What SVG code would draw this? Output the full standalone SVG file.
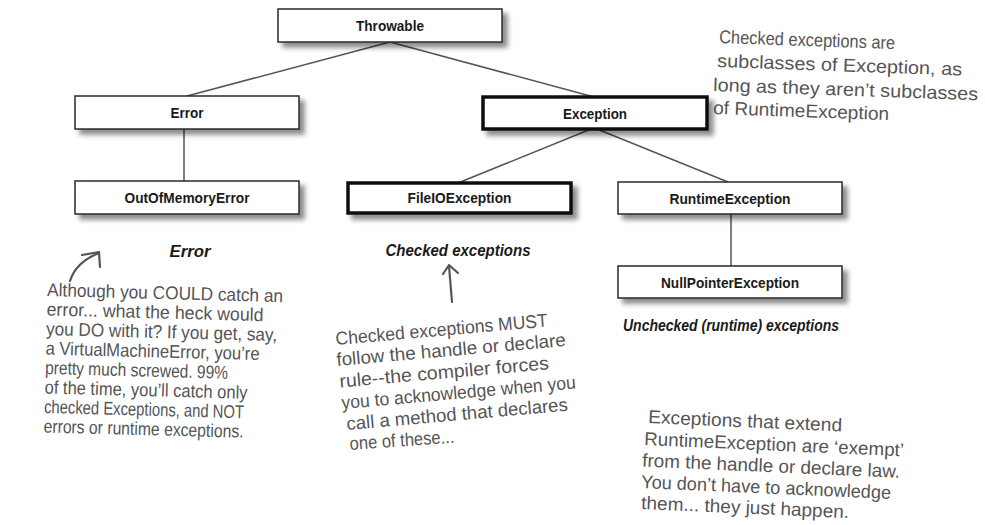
<svg xmlns="http://www.w3.org/2000/svg" width="985" height="525" viewBox="0 0 985 525">
  <defs>
    <filter id="shadow" x="-10%" y="-30%" width="130%" height="190%">
      <feDropShadow dx="5" dy="5" stdDeviation="2.5" flood-color="#000" flood-opacity="0.45"/>
    </filter>
    <style>
      .box { fill: #ffffff; stroke: #2a2a2a; stroke-width: 1.5; filter: url(#shadow); }
      .box-thick { fill: #ffffff; stroke: #111111; stroke-width: 3.5; filter: url(#shadow); }
      .lbl { font-family: "Liberation Sans", Arial, sans-serif; font-weight: bold; font-size: 15px; fill: #1a1a1a; text-anchor: middle; }
      .cat { font-family: "Liberation Sans", Arial, sans-serif; font-weight: bold; font-style: italic; font-size: 16px; fill: #1a1a1a; text-anchor: middle; }
      .hand { font-family: "Liberation Sans Narrow", "Liberation Sans", sans-serif; font-size: 18.5px; fill: #555555; }
      .conn { stroke: #555555; stroke-width: 1.5; fill: none; }
      .arrow { stroke: #555555; stroke-width: 2.2; fill: none; stroke-linecap: round; stroke-linejoin: round; }
    </style>
  </defs>

  <rect width="985" height="525" fill="#ffffff"/>

  <g id="connectors">
    <line class="conn" x1="390" y1="42" x2="187" y2="96"/>
    <line class="conn" x1="390" y1="42" x2="594" y2="97"/>
    <line class="conn" x1="184" y1="129" x2="184" y2="181"/>
    <line class="conn" x1="591" y1="129" x2="458" y2="183"/>
    <line class="conn" x1="597" y1="129" x2="728" y2="182"/>
    <line class="conn" x1="731" y1="214" x2="731" y2="266"/>
  </g>

  <g id="node-throwable">
    <rect class="box" x="278" y="9" width="224" height="33"/>
    <text class="lbl" x="390" y="31" textLength="68" lengthAdjust="spacingAndGlyphs">Throwable</text>
  </g>
  <g id="node-error">
    <rect class="box" x="75" y="96" width="224" height="33"/>
    <text class="lbl" x="187" y="118" textLength="33" lengthAdjust="spacingAndGlyphs">Error</text>
  </g>
  <g id="node-exception">
    <rect class="box-thick" x="483" y="97" width="224" height="32"/>
    <text class="lbl" x="595" y="118.5" textLength="64" lengthAdjust="spacingAndGlyphs">Exception</text>
  </g>
  <g id="node-outofmemoryerror">
    <rect class="box" x="75" y="181" width="224" height="33"/>
    <text class="lbl" x="187" y="203" textLength="125" lengthAdjust="spacingAndGlyphs">OutOfMemoryError</text>
  </g>
  <g id="node-fileioexception">
    <rect class="box-thick" x="348" y="183" width="223" height="30"/>
    <text class="lbl" x="459.5" y="203" textLength="104" lengthAdjust="spacingAndGlyphs">FileIOException</text>
  </g>
  <g id="node-runtimeexception">
    <rect class="box" x="618" y="182" width="224" height="32"/>
    <text class="lbl" x="730" y="203.5" textLength="121" lengthAdjust="spacingAndGlyphs">RuntimeException</text>
  </g>
  <g id="node-nullpointerexception">
    <rect class="box" x="618" y="266" width="224" height="32"/>
    <text class="lbl" x="730" y="287.5" textLength="138" lengthAdjust="spacingAndGlyphs">NullPointerException</text>
  </g>

  <g id="categories">
    <text class="cat" x="190" y="257" textLength="41" lengthAdjust="spacingAndGlyphs">Error</text>
    <text class="cat" x="458" y="256" textLength="145" lengthAdjust="spacingAndGlyphs">Checked exceptions</text>
    <text class="cat" x="731" y="331" textLength="216" lengthAdjust="spacingAndGlyphs">Unchecked (runtime) exceptions</text>
  </g>

  <g id="note-checked-def">
    <text class="hand" x="719" y="43" transform="rotate(2 719 43)" textLength="176" lengthAdjust="spacingAndGlyphs">Checked exceptions are</text>
    <text class="hand" x="717" y="67" transform="rotate(2 717 67)" textLength="245" lengthAdjust="spacingAndGlyphs">subclasses of Exception, as</text>
    <text class="hand" x="713" y="91" transform="rotate(2 713 91)" textLength="265" lengthAdjust="spacingAndGlyphs">long as they aren’t subclasses</text>
    <text class="hand" x="713" y="114" transform="rotate(2 713 114)" textLength="176" lengthAdjust="spacingAndGlyphs">of RuntimeException</text>
  </g>

  <g id="note-error">
    <path class="arrow" d="M70,281 Q76,262 99,253"/>
    <path class="arrow" d="M82,255 L99,252 L100,267"/>
    <g transform="rotate(1.5 47 296)">
      <text class="hand" x="47" y="296" textLength="236" lengthAdjust="spacingAndGlyphs">Although you COULD catch an</text>
      <text class="hand" x="47" y="315.5" textLength="217" lengthAdjust="spacingAndGlyphs">error... what the heck would</text>
      <text class="hand" x="47" y="335" textLength="231" lengthAdjust="spacingAndGlyphs">you DO with it? If you get, say,</text>
      <text class="hand" x="47" y="354.5" textLength="214" lengthAdjust="spacingAndGlyphs">a VirtualMachineError, you’re</text>
      <text class="hand" x="47" y="374" textLength="183" lengthAdjust="spacingAndGlyphs">pretty much screwed. 99%</text>
      <text class="hand" x="47" y="393.5" textLength="203" lengthAdjust="spacingAndGlyphs">of the time, you’ll catch only</text>
      <text class="hand" x="47" y="413" textLength="200" lengthAdjust="spacingAndGlyphs">checked Exceptions, and NOT</text>
      <text class="hand" x="47" y="432.5" textLength="200" lengthAdjust="spacingAndGlyphs">errors or runtime exceptions.</text>
    </g>
  </g>

  <g id="note-checked">
    <path class="arrow" d="M452,302 L449,266"/>
    <path class="arrow" d="M443,274 L449,265 L458,273"/>
    <text class="hand" x="336" y="345" transform="rotate(-5 336 345)" textLength="213" lengthAdjust="spacingAndGlyphs">Checked exceptions MUST</text>
    <text class="hand" x="337" y="366" transform="rotate(-5 337 366)" textLength="230" lengthAdjust="spacingAndGlyphs">follow the handle or declare</text>
    <text class="hand" x="340" y="387.5" transform="rotate(-5 340 387.5)" textLength="210" lengthAdjust="spacingAndGlyphs">rule--the compiler forces</text>
    <text class="hand" x="342" y="409" transform="rotate(-5 342 409)" textLength="235" lengthAdjust="spacingAndGlyphs">you to acknowledge when you</text>
    <text class="hand" x="347" y="430" transform="rotate(-5 347 430)" textLength="222" lengthAdjust="spacingAndGlyphs">call a method that declares</text>
    <text class="hand" x="350" y="450" transform="rotate(-4 350 450)" textLength="105" lengthAdjust="spacingAndGlyphs">one of these...</text>
  </g>

  <g id="note-unchecked">
    <text class="hand" x="648" y="423" transform="rotate(2.5 648 423)" textLength="194" lengthAdjust="spacingAndGlyphs">Exceptions that extend</text>
    <text class="hand" x="644" y="445" transform="rotate(2.5 644 445)" textLength="260" lengthAdjust="spacingAndGlyphs">RuntimeException are ‘exempt’</text>
    <text class="hand" x="642" y="466.5" transform="rotate(2.5 642 466.5)" textLength="258" lengthAdjust="spacingAndGlyphs">from the handle or declare law.</text>
    <text class="hand" x="641" y="488" transform="rotate(2.5 641 488)" textLength="250" lengthAdjust="spacingAndGlyphs">You don’t have to acknowledge</text>
    <text class="hand" x="641" y="509" transform="rotate(2.5 641 509)" textLength="208" lengthAdjust="spacingAndGlyphs">them... they just happen.</text>
  </g>
</svg>
